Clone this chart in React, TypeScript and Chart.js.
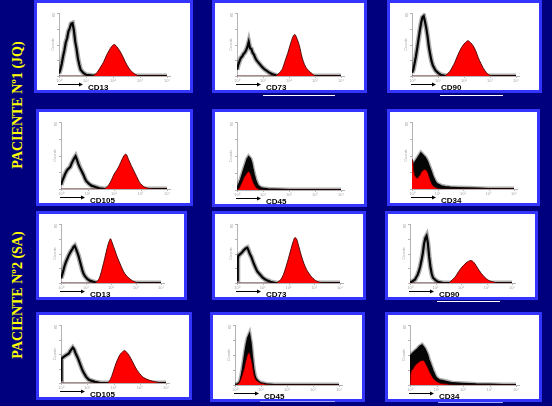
import React, { useEffect, useRef } from "react";
import { Chart, registerables } from "chart.js";
Chart.register(...registerables);

type Pt = [number, number];

// ---------- data ----------
const PATIENT_LABELS = ["PACIENTE Nº1 (JQ)", "PACIENTE Nº2 (SA)"];
const MARKERS = ["CD13", "CD73", "CD90", "CD105", "CD45", "CD34", "CD13", "CD73", "CD90", "CD105", "CD45", "CD34"];
const DECADES = [0, 1, 2, 3, 4];
const DECADE_LABELS = ["10⁰", "10¹", "10²", "10³", "10⁴"];

// x = log10 fluorescence (decades), y = relative counts (% of axis)
const P1_CD13_ISO: Pt[] = [[0,4],[0.05,10],[0.1,19],[0.15,31],[0.2,41],[0.25,53],[0.3,60],[0.35,71],[0.4,76],[0.45,83],[0.5,84],[0.55,73],[0.6,55],[0.65,43],[0.7,28],[0.75,18],[0.8,10],[0.9,5],[1.0,2],[1.2,1],[1.5,0],[4,0]];
const P1_CD13_MARK: Pt[] = [[0,0],[1.25,0],[1.35,3],[1.45,8],[1.55,15],[1.65,22],[1.75,32],[1.85,40],[1.95,47],[2.05,50],[2.15,46],[2.25,40],[2.35,32],[2.45,23],[2.55,15],[2.65,9],[2.75,5],[2.85,2],[3.0,0],[4,0]];
const P1_CD73_ISO: Pt[] = [[0,10],[0.05,18],[0.1,24],[0.15,29],[0.2,31],[0.25,35],[0.3,37],[0.35,41],[0.4,46],[0.45,54],[0.5,44],[0.55,43],[0.6,37],[0.65,34],[0.7,29],[0.75,25],[0.85,20],[0.95,15],[1.05,11],[1.15,8],[1.25,5],[1.35,3],[1.5,1],[1.7,0],[4,0]];
const P1_CD73_MARK: Pt[] = [[0,0],[1.45,0],[1.55,2],[1.65,6],[1.75,12],[1.85,24],[1.95,36],[2.05,50],[2.15,62],[2.22,66],[2.3,60],[2.4,48],[2.5,30],[2.6,18],[2.7,11],[2.8,7],[2.9,3],[3.05,0],[4,0]];
const P1_CD90_ISO: Pt[] = [[0,5],[0.05,10],[0.1,20],[0.15,31],[0.2,44],[0.25,58],[0.3,72],[0.35,84],[0.4,93],[0.45,95],[0.5,86],[0.55,76],[0.6,62],[0.65,46],[0.7,34],[0.75,24],[0.8,17],[0.9,9],[1.0,5],[1.1,2],[1.3,0],[4,0]];
const P1_CD90_MARK: Pt[] = [[0,0],[1.25,0],[1.35,3],[1.45,7],[1.55,14],[1.65,22],[1.75,32],[1.85,41],[1.95,48],[2.05,53],[2.15,56],[2.25,53],[2.35,48],[2.45,40],[2.55,29],[2.65,20],[2.75,12],[2.85,6],[2.95,2],[3.1,0],[4,0]];
const P1_CD105_ISO: Pt[] = [[0,6],[0.05,12],[0.1,17],[0.15,22],[0.2,26],[0.25,29],[0.3,31],[0.35,33],[0.4,38],[0.45,42],[0.5,46],[0.55,49],[0.6,44],[0.65,38],[0.7,33],[0.75,29],[0.8,25],[0.85,21],[0.9,16],[0.95,12],[1.05,8],[1.15,5],[1.3,3],[1.45,1],[1.65,0],[4,0]];
const P1_CD105_MARK: Pt[] = [[0,0],[1.6,0],[1.7,2],[1.8,6],[1.9,13],[2.0,22],[2.1,28],[2.2,35],[2.3,44],[2.4,51],[2.45,52],[2.55,44],[2.65,35],[2.75,27],[2.85,19],[2.95,11],[3.05,6],[3.15,3],[3.3,1],[3.45,0],[4,0]];
const P1_CD45_ISO: Pt[] = [[0,3],[0.05,6],[0.1,10],[0.15,15],[0.2,21],[0.25,27],[0.3,33],[0.35,39],[0.4,45],[0.45,48],[0.5,46],[0.55,40],[0.6,30],[0.65,22],[0.7,15],[0.75,10],[0.8,6],[0.9,3],[1.0,2],[1.2,1],[1.5,0.5],[2,0],[4,0]];
const P1_CD45_MARK: Pt[] = [[0,0],[0.05,1],[0.1,4],[0.15,8],[0.2,12],[0.25,17],[0.3,20],[0.35,23],[0.4,26],[0.45,27],[0.5,25],[0.55,20],[0.6,14],[0.65,9],[0.7,6],[0.75,3],[0.85,1],[1.0,0],[4,0]];
const P1_CD34_ISO: Pt[] = [[0,28],[0.05,34],[0.1,38],[0.15,41],[0.2,44],[0.25,47],[0.3,50],[0.35,53],[0.4,51],[0.45,49],[0.5,47],[0.55,44],[0.6,40],[0.65,35],[0.7,30],[0.75,25],[0.8,19],[0.85,15],[0.9,11],[0.95,8],[1.05,6],[1.15,4],[1.3,3],[1.5,2],[1.8,1.5],[2.2,1],[2.6,0.5],[3,0],[4,0]];
const P1_CD34_MARK: Pt[] = [[0,45],[0.04,40],[0.08,25],[0.15,18],[0.2,16],[0.25,18],[0.3,20],[0.35,24],[0.4,27],[0.45,28],[0.5,29],[0.55,28],[0.6,26],[0.65,21],[0.7,15],[0.75,10],[0.8,6],[0.9,3],[1.0,1],[1.2,0],[4,0]];
const P2_CD13_ISO: Pt[] = [[0,8],[0.05,14],[0.1,22],[0.15,30],[0.2,36],[0.25,41],[0.3,46],[0.35,50],[0.4,54],[0.45,57],[0.5,61],[0.55,63],[0.6,58],[0.65,52],[0.7,46],[0.75,38],[0.8,30],[0.85,22],[0.9,16],[0.95,12],[1.05,7],[1.15,4],[1.3,2],[1.45,0],[4,0]];
const P2_CD13_MARK: Pt[] = [[0,0],[1.35,0],[1.45,3],[1.55,10],[1.65,25],[1.75,42],[1.85,60],[1.92,70],[1.98,75],[2.05,68],[2.15,56],[2.25,44],[2.35,34],[2.45,24],[2.55,16],[2.65,11],[2.75,7],[2.85,4],[2.95,2],[3.1,0],[4,0]];
const P2_CD73_ISO: Pt[] = [[0,5],[0.03,40],[0.05,46],[0.1,48],[0.15,50],[0.2,52],[0.25,55],[0.3,57],[0.35,59],[0.4,60],[0.45,55],[0.5,49],[0.55,45],[0.6,39],[0.65,33],[0.7,28],[0.75,23],[0.8,19],[0.9,14],[1.0,9],[1.1,6],[1.2,4],[1.3,2],[1.5,0],[4,0]];
const P2_CD73_MARK: Pt[] = [[0,0],[1.5,0],[1.6,2],[1.7,6],[1.8,14],[1.9,27],[2.0,42],[2.1,58],[2.18,70],[2.25,77],[2.32,74],[2.4,62],[2.5,46],[2.6,33],[2.7,23],[2.8,16],[2.9,10],[3.0,6],[3.1,3],[3.25,1],[3.4,0],[4,0]];
const P2_CD90_ISO: Pt[] = [[0,1],[0.1,3],[0.2,6],[0.25,10],[0.3,14],[0.35,20],[0.4,28],[0.45,38],[0.5,50],[0.55,66],[0.6,76],[0.65,80],[0.7,68],[0.75,45],[0.8,28],[0.85,16],[0.9,9],[1.0,5],[1.1,2],[1.3,0],[4,0]];
const P2_CD90_MARK: Pt[] = [[0,0],[1.5,0],[1.6,3],[1.7,7],[1.8,12],[1.9,19],[2.0,25],[2.1,30],[2.2,34],[2.3,37],[2.4,38],[2.5,35],[2.6,29],[2.7,22],[2.8,16],[2.9,11],[3.0,7],[3.1,4],[3.25,2],[3.45,0],[4,0]];
const P2_CD105_ISO: Pt[] = [[0,5],[0.02,42],[0.1,45],[0.2,48],[0.3,51],[0.35,55],[0.4,58],[0.45,61],[0.5,58],[0.55,52],[0.6,47],[0.65,42],[0.7,36],[0.75,30],[0.8,24],[0.85,19],[0.9,15],[0.95,11],[1.05,6],[1.15,4],[1.3,2],[1.5,0],[4,0]];
const P2_CD105_MARK: Pt[] = [[0,0],[1.75,0],[1.85,4],[1.95,14],[2.05,28],[2.15,40],[2.25,49],[2.35,54],[2.42,56],[2.5,53],[2.6,47],[2.7,39],[2.8,30],[2.9,22],[3.0,16],[3.1,11],[3.2,8],[3.35,5],[3.5,3],[3.7,1],[3.9,0],[4,0]];
const P2_CD45_ISO: Pt[] = [[0,0],[0.1,1],[0.2,5],[0.25,14],[0.3,26],[0.35,40],[0.4,55],[0.45,68],[0.5,78],[0.55,83],[0.6,70],[0.65,48],[0.7,28],[0.75,16],[0.8,10],[0.9,5],[1.0,3],[1.2,1],[1.5,0],[4,0]];
const P2_CD45_MARK: Pt[] = [[0,0],[0.1,1],[0.15,3],[0.2,7],[0.25,13],[0.3,20],[0.35,27],[0.4,37],[0.45,46],[0.5,52],[0.55,54],[0.6,46],[0.65,38],[0.7,24],[0.75,14],[0.8,9],[0.9,5],[1.0,3],[1.1,2],[1.4,0],[4,0]];
const P2_CD34_ISO: Pt[] = [[0,8],[0.02,48],[0.1,52],[0.2,56],[0.3,60],[0.38,64],[0.45,66],[0.5,63],[0.55,60],[0.6,55],[0.65,50],[0.7,42],[0.75,36],[0.8,30],[0.85,24],[0.9,19],[0.95,14],[1.0,11],[1.1,8],[1.2,7],[1.4,5],[1.6,3],[2.0,2],[2.5,1],[3.0,0.5],[3.5,0],[4,0]];
const P2_CD34_MARK: Pt[] = [[0,0],[0.02,17],[0.1,26],[0.2,33],[0.3,37],[0.4,40],[0.5,41],[0.55,39],[0.6,35],[0.65,31],[0.7,26],[0.75,21],[0.8,17],[0.85,13],[0.9,10],[1.0,6],[1.15,3],[1.3,2],[1.5,1],[1.8,0],[4,0]];

const ISO_SERIES = [P1_CD13_ISO, P1_CD73_ISO, P1_CD90_ISO, P1_CD105_ISO, P1_CD45_ISO, P1_CD34_ISO, P2_CD13_ISO, P2_CD73_ISO, P2_CD90_ISO, P2_CD105_ISO, P2_CD45_ISO, P2_CD34_ISO];
const MARK_SERIES = [P1_CD13_MARK, P1_CD73_MARK, P1_CD90_MARK, P1_CD105_MARK, P1_CD45_MARK, P1_CD34_MARK, P2_CD13_MARK, P2_CD73_MARK, P2_CD90_MARK, P2_CD105_MARK, P2_CD45_MARK, P2_CD34_MARK];

// ---------- layout / style ----------
const BOXES: number[][] = [
  [34, 0, 159, 93], [212, 0, 155, 93], [387, 0, 155, 93],
  [36, 109, 157, 97], [212, 109, 155, 98], [387, 109, 153, 97],
  [36, 211, 151, 89], [212, 211, 154, 89], [385, 211, 153, 89],
  [36, 312, 156, 88], [210, 312, 155, 90], [385, 312, 157, 90],
];
const ISO_FILLED = [false, false, false, false, true, true, false, false, false, false, true, true];
const UNDERLINES: any[] = [
  [263, 95, 72, "#ffffff"], [440, 95, 63, "#ffffff"], [437, 301, 63, "#ffffff"],
  [260, 401, 75, "#9fa8ff"], [438, 402, 65, "#9fa8ff"],
];
const NAVY = "#00007e";
const FRAME = "#3434ff";
const BORDER = 3;

const decorPlugin = {
  id: "facsDecor",
  afterDraw(chart: any, _a: any, opts: any) {
    const { ctx, chartArea } = chart;
    const xs = chart.scales.x;
    const ys = chart.scales.y;
    const { left, right, bottom, top } = chartArea;
    ctx.save();
    ctx.strokeStyle = "#b4b4b4";
    ctx.lineWidth = 1;
    ctx.beginPath();
    ctx.moveTo(right, bottom + 0.5);
    ctx.lineTo(right + 4, bottom + 0.5);
    DECADES.forEach((d) => {
      const px = Math.round(xs.getPixelForValue(d)) + 0.5;
      ctx.moveTo(px, bottom);
      ctx.lineTo(px, bottom + 2);
    });
    [0, 25, 50, 75, 100].forEach((v) => {
      const py = Math.round(ys.getPixelForValue(v)) + 0.5;
      ctx.moveTo(left - 2, py);
      ctx.lineTo(left, py);
    });
    ctx.stroke();
    ctx.fillStyle = "#a8a8a8";
    ctx.font = "4px Arial";
    ctx.textAlign = "center";
    ctx.textBaseline = "top";
    DECADES.forEach((d, i) => {
      ctx.fillText(DECADE_LABELS[i], xs.getPixelForValue(d), bottom + 3);
    });
    ctx.save();
    ctx.translate(left - 6, (top + bottom) / 2);
    ctx.rotate(-Math.PI / 2);
    ctx.textBaseline = "middle";
    ctx.fillText("Counts", 0, 0);
    ctx.restore();
    ctx.save();
    ctx.translate(left - 5, top + 2);
    ctx.rotate(-Math.PI / 2);
    ctx.textBaseline = "middle";
    ctx.fillText("80", 0, 0);
    ctx.restore();
    const ay = Math.round(bottom + 8) + 0.5;
    const ax0 = left - 1;
    const ax1 = left + 24;
    ctx.strokeStyle = "#000";
    ctx.fillStyle = "#000";
    ctx.lineWidth = 1;
    ctx.beginPath();
    ctx.moveTo(ax0, ay);
    ctx.lineTo(ax1 - 2, ay);
    ctx.stroke();
    ctx.beginPath();
    ctx.moveTo(ax1, ay);
    ctx.lineTo(ax1 - 4, ay - 2);
    ctx.lineTo(ax1 - 4, ay + 2);
    ctx.closePath();
    ctx.fill();
    ctx.font = "bold 8px Arial, 'Liberation Sans', sans-serif";
    ctx.textAlign = "left";
    ctx.textBaseline = "middle";
    ctx.fillText(opts.label, left + 29, bottom + 11.5);
    ctx.restore();
  },
};

function Panel({ idx }: { idx: number }) {
  const ref = useRef<HTMLCanvasElement>(null);
  const [l, t, w, h] = BOXES[idx];
  const cw = w - 2 * BORDER;
  const ch = h - 2 * BORDER;
  useEffect(() => {
    const filled = ISO_FILLED[idx];
    const iso = ISO_SERIES[idx].map(([x, y]) => ({ x, y }));
    const chart = new Chart(ref.current as HTMLCanvasElement, {
      type: "line",
      data: {
        datasets: [
          {
            data: MARK_SERIES[idx].map(([x, y]) => ({ x, y })),
            borderColor: "rgba(70,0,0,0.9)",
            borderWidth: 1,
            backgroundColor: "#ff0000",
            fill: "origin",
            pointRadius: 0,
            cubicInterpolationMode: "monotone",
            order: 0,
          },
          {
            data: iso,
            borderColor: "#050505",
            borderWidth: 2.2,
            backgroundColor: filled ? "#050505" : "rgba(0,0,0,0)",
            fill: filled ? "origin" : false,
            pointRadius: 0,
            tension: 0,
            order: 1,
          },
          {
            data: iso,
            borderColor: "rgba(20,20,20,0.35)",
            borderWidth: 5,
            fill: false,
            pointRadius: 0,
            tension: 0,
            order: 2,
          },
        ],
      } as any,
      options: {
        animation: false,
        responsive: false,
        maintainAspectRatio: false,
        devicePixelRatio: 1,
        events: [],
        layout: { padding: { left: 22, top: 10, right: 23, bottom: 14 } },
        plugins: {
          legend: { display: false },
          tooltip: { enabled: false },
          facsDecor: { label: MARKERS[idx] },
        } as any,
        scales: {
          x: {
            type: "linear",
            min: 0,
            max: 4,
            ticks: { display: false },
            grid: { display: false, drawTicks: false },
            border: { display: true, color: "#b4b4b4", width: 1 },
          },
          y: {
            type: "linear",
            min: 0,
            max: 100,
            ticks: { display: false },
            grid: { display: false, drawTicks: false },
            border: { display: true, color: "#b4b4b4", width: 1 },
          },
        },
      } as any,
      plugins: [decorPlugin as any],
    });
    return () => chart.destroy();
  }, [idx]);
  return (
    <div
      style={{
        position: "absolute",
        left: l,
        top: t,
        width: w,
        height: h,
        boxSizing: "border-box",
        border: `${BORDER}px solid ${FRAME}`,
        background: "#ffffff",
      }}
    >
      <canvas ref={ref} width={cw} height={ch} style={{ display: "block", width: cw, height: ch }} />
    </div>
  );
}

export default function App() {
  const labelPos = [
    [17.5, 105],
    [18, 295],
  ];
  return (
    <div
      style={{
        position: "fixed",
        left: 0,
        top: 0,
        width: 552,
        height: 406,
        background: NAVY,
        overflow: "hidden",
      }}
    >
      {PATIENT_LABELS.map((txt, i) => (
        <div
          key={txt}
          style={{
            position: "absolute",
            left: labelPos[i][0],
            top: labelPos[i][1],
            transform: "translate(-50%, -50%) rotate(-90deg)",
            whiteSpace: "nowrap",
            color: "#ffff00",
            font: "bold 14px 'Liberation Serif', 'Times New Roman', serif",
          }}
        >
          {txt}
        </div>
      ))}
      {BOXES.map((_, i) => (
        <Panel key={i} idx={i} />
      ))}
      {UNDERLINES.map((u: any, i) => (
        <div
          key={"u" + i}
          style={{ position: "absolute", left: u[0], top: u[1], width: u[2], height: 1, background: u[3] }}
        />
      ))}
    </div>
  );
}
